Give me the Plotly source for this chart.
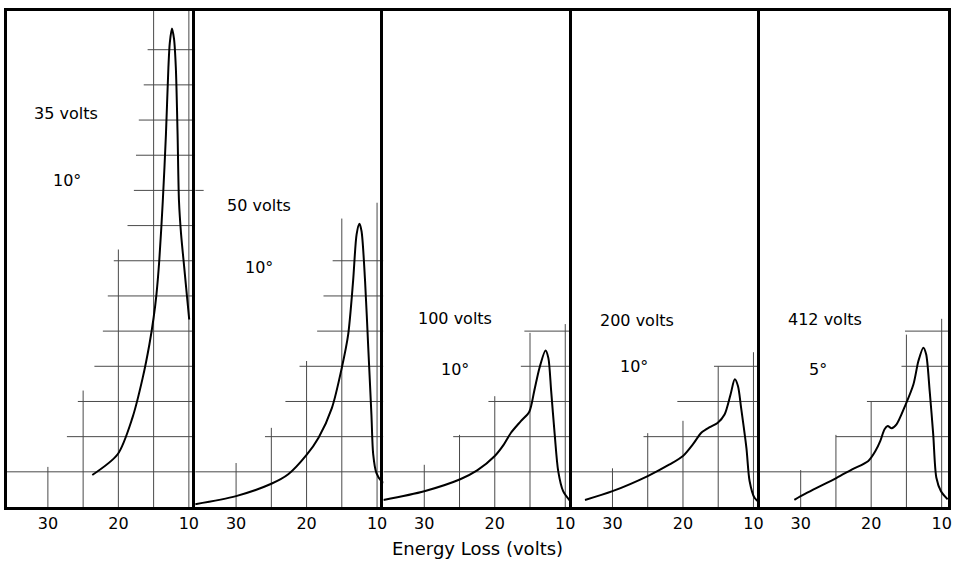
import plotly.graph_objects as go
from plotly.subplots import make_subplots

# ---------------- data ----------------
panel_titles = ["35 volts", "50 volts", "100 volts", "200 volts", "412 volts"]
panel_angles = ["10°", "10°", "10°", "10°", "5°"]
tick_vals = [30, 20, 10]
tick_text = ["30", "20", "10"]
x_axis_title = "Energy Loss (volts)"

# curves: energy loss (volts) and intensity (grid units)
loss_35 = [23.7, 20.1, 18.0, 16.55, 15.6, 15.0, 14.6, 14.2, 13.7, 13.25, 12.9, 12.7, 12.4,
           12.1, 11.85, 11.6, 11.4, 11.1, 10.65, 10.2, 9.95]
int_35 = [0.91, 1.5, 2.54, 3.67, 4.62, 5.38, 6.04, 7.0, 8.69, 10.6, 12.5, 13.2, 13.6,
          13.3, 12.5, 10.6, 8.69, 7.75, 6.8, 5.85, 5.33]

loss_50 = [35.8, 30.0, 25.0, 22.6, 20.0, 18.3, 16.4, 15.0, 14.1, 13.4, 12.9, 12.5, 12.2,
           11.7, 11.25, 10.8, 10.55, 10.1, 9.4, 9.05]
int_50 = [0.08, 0.31, 0.66, 0.93, 1.48, 1.97, 2.82, 3.96, 4.9, 6.42, 7.75, 8.05, 7.84,
          6.42, 4.53, 2.63, 1.5, 0.97, 0.74, 0.69]

loss_100 = [35.8, 30.0, 24.9, 22.5, 20.0, 18.7, 17.7, 16.3, 15.1, 14.4, 13.65, 12.8, 12.4,
            12.0, 11.5, 11.0, 10.3, 9.3]
int_100 = [0.2, 0.45, 0.79, 1.04, 1.45, 1.78, 2.11, 2.44, 2.71, 3.3, 3.96, 4.45, 4.24,
           3.3, 2.07, 1.02, 0.45, 0.17]

loss_200 = [33.9, 30.0, 25.0, 21.9, 20.0, 18.6, 17.4, 16.2, 15.1, 14.1, 13.25, 12.65, 12.2,
            11.75, 11.0, 10.55, 9.85, 9.1]
int_200 = [0.2, 0.45, 0.88, 1.21, 1.45, 1.78, 2.11, 2.27, 2.39, 2.63, 3.2, 3.63, 3.44,
           2.82, 1.68, 0.74, 0.26, 0.12]

loss_412 = [30.9, 30.0, 24.9, 22.7, 20.4, 19.4, 18.7, 18.1, 17.65, 17.1, 16.4, 15.2, 14.0,
            13.3, 12.6, 12.2, 11.7, 11.2, 10.75, 10.1, 9.15]
int_412 = [0.2, 0.31, 0.83, 1.07, 1.31, 1.59, 1.88, 2.21, 2.3, 2.24, 2.35, 2.87, 3.49,
           4.15, 4.53, 4.34, 3.3, 2.07, 0.83, 0.45, 0.22]

curves = [(loss_35, int_35), (loss_50, int_50), (loss_100, int_100),
          (loss_200, int_200), (loss_412, int_412)]

# hand-drawn graph-paper grid: horizontal lines at levels 1,2,3...,
# each starting at the given energy (running to the right edge)
hgrid_start = [
    [35.8, 27.3, 25.75, 23.4, 22.2, 21.5, 20.65, 18.7, 17.8, 17.5, 17.1, 16.4, 15.85],
    [35.8, 25.9, 23.0, 21.0, 18.5, 17.6, 16.3],
    [35.8, 25.9, 20.9, 16.3, 15.8],
    [35.8, 25.6, 20.8, 15.6],
    [35.8, 25.0, 20.6, 15.7, 15.2],
]
# vertical lines at 30, 25, 20, 15, 10 volts, each rising to the given level
vgrid_pos = [30, 25, 20, 15, 10]
vgrid_top = [
    [1.14, 3.31, 7.32, 14.1, 14.1],
    [1.25, 2.25, 4.15, 8.2, 8.65],
    [1.2, 2.05, 3.15, 4.95, 5.2],
    [1.1, 2.1, 2.45, 4.0, 4.4],
    [1.05, 2.05, 3.0, 4.9, 5.35],
]

X_RANGE = [35.8, 9.1]
Y_RANGE = [0, 14.1]

FONT = "DejaVu Sans"
GRID_COLOR = "#4a4a4a"

fig = make_subplots(rows=1, cols=5, horizontal_spacing=0, shared_yaxes=False)

for i in range(5):
    col = i + 1
    for lvl, start in enumerate(hgrid_start[i], start=1):
        fig.add_trace(go.Scatter(x=[start, X_RANGE[1]], y=[lvl, lvl], mode="lines",
                                 line=dict(color=GRID_COLOR, width=1),
                                 hoverinfo="skip", showlegend=False), row=1, col=col)
    for xv, top in zip(vgrid_pos, vgrid_top[i]):
        fig.add_trace(go.Scatter(x=[xv, xv], y=[0, top], mode="lines",
                                 line=dict(color=GRID_COLOR, width=1),
                                 hoverinfo="skip", showlegend=False), row=1, col=col)
    lx, ly = curves[i]
    fig.add_trace(go.Scatter(x=lx, y=ly, mode="lines",
                             line=dict(color="black", width=2, shape="spline", smoothing=0.8),
                             hoverinfo="skip", showlegend=False), row=1, col=col)

# small stray mark continuing panel-1 grid into panel 2
fig.add_trace(go.Scatter(x=[35.8, 34.6], y=[9, 9], mode="lines",
                         line=dict(color=GRID_COLOR, width=1),
                         hoverinfo="skip", showlegend=False), row=1, col=2)

for i in range(5):
    xa = "xaxis" if i == 0 else f"xaxis{i+1}"
    ya = "yaxis" if i == 0 else f"yaxis{i+1}"
    fig.layout[xa].update(range=X_RANGE, tickvals=tick_vals, ticktext=tick_text,
                          ticks="", showgrid=False, zeroline=False,
                          showline=True, mirror=True, linecolor="black", linewidth=2.5,
                          tickfont=dict(family=FONT, size=16, color="black"),
                          ticklabelstandoff=0)
    fig.layout[ya].update(range=Y_RANGE, showticklabels=False, ticks="",
                          showgrid=False, zeroline=False,
                          showline=True, mirror=(i == 4), linecolor="black", linewidth=2.5)

label_pos = [(27.45, 11.2), (26.7, 8.56), (25.7, 5.37), (26.5, 5.29), (26.6, 5.32)]
angle_pos = [(27.3, 9.27), (26.7, 6.82), (25.7, 3.92), (26.9, 4.0), (27.6, 3.92)]
for i in range(5):
    xr = "x" if i == 0 else f"x{i+1}"
    yr = "y" if i == 0 else f"y{i+1}"
    fig.add_annotation(x=label_pos[i][0], y=label_pos[i][1], xref=xr, yref=yr,
                       text=panel_titles[i], showarrow=False,
                       font=dict(family=FONT, size=16, color="black"))
    fig.add_annotation(x=angle_pos[i][0], y=angle_pos[i][1], xref=xr, yref=yr,
                       text=panel_angles[i], showarrow=False,
                       font=dict(family=FONT, size=16, color="black"))

fig.add_annotation(x=0.5, y=-0.083, xref="paper", yref="paper", text=x_axis_title,
                   showarrow=False, yanchor="middle",
                   font=dict(family=FONT, size=18, color="black"))

fig.update_layout(width=959, height=561, margin=dict(l=7, r=8, t=11, b=54),
                  paper_bgcolor="white", plot_bgcolor="white")

fig.write_html("out.html")
